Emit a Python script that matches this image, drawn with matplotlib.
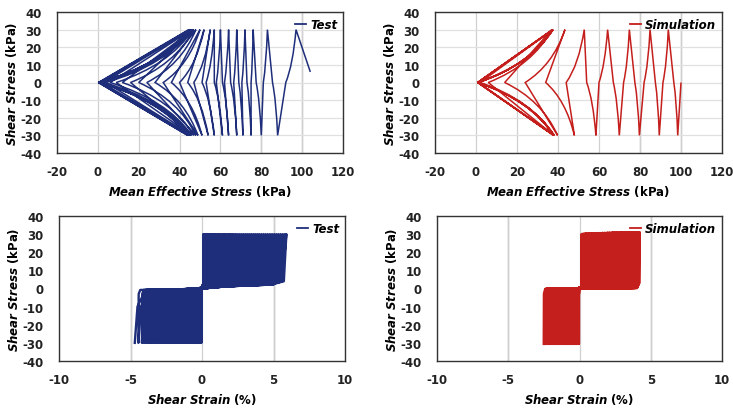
import numpy as np
import matplotlib
matplotlib.use("Agg")
import matplotlib.pyplot as plt
from matplotlib.path import Path
from matplotlib.patches import PathPatch

plt.rcParams["axes.unicode_minus"] = False

# stress path, test: turning points (p at q=+/-30) and p where each half cycle crosses q=0
test_start = (104, 6)
test_turn_p = [97, 88, 83, 80, 76, 75, 72, 71, 68, 68, 64, 64, 60, 61, 57, 57, 55, 54, 52, 51,
               50, 49, 48, 48, 47, 47, 46.5, 46, 46, 45.5, 45.5, 45, 45, 44.5, 45, 44.5, 45, 44, 44.5, 44]
test_zero_p = [92, 85.5, 81, 77.5, 75, 73, 70.5, 69, 66.5, 65, 62, 61, 58, 57, 53, 51, 47, 44, 40, 36,
               32, 28, 24, 20, 16, 12, 9, 6, 4, 3, 2, 1.5, 1, 0.8, 0.5, 0.5, 0.3, 0.3, 0.2]

# stress path, simulation (first turn is a trough)
sim_start = (100, 0)
sim_turn_p = [98.4, 93.8, 89.4, 84.9, 79.7, 74.8, 69.9, 64.2, 58.5, 52.8, 48.0, 43.4, 39.8,
              37.0, 38.0, 37.5, 38.2, 37.6, 38.0, 37.4, 37.8, 37.3, 37.9, 37.5, 38.1, 37.6]
sim_zero_p = [96.5, 91.2, 87.5, 82.0, 77.5, 72.0, 67.0, 60.0, 54.0, 44.0, 34.0, 24.0, 14.0,
              6.0, 2.0, 1.2, 1.0, 1.0, 0.9, 0.9, 0.8, 0.8, 0.8, 0.8, 0.8]

# stress-strain, max / min strain of each cycle (%)
test_gp = [0.1, 0.12, 0.14, 0.16, 0.18, 0.2, 0.23, 0.26, 0.3, 0.35,
           0.42, 0.5, 0.6, 0.7, 0.8, 0.9, 1.0, 1.12, 1.24, 1.36,
           1.48, 1.6, 1.72, 1.84, 1.96, 2.08, 2.2, 2.33, 2.46, 2.6,
           2.74, 2.88, 3.02, 3.16, 3.3, 3.44, 3.58, 3.72, 3.86, 4.0,
           4.15, 4.3, 4.45, 4.6, 4.75, 4.9, 5.05, 5.2, 5.35, 5.5,
           5.65, 5.8, 5.9]
test_gn = [-0.05, -0.06, -0.08, -0.1, -0.12, -0.14, -0.16, -0.19, -0.22, -0.26,
           -0.31, -0.37, -0.44, -0.52, -0.6, -0.68, -0.76, -0.85, -0.94, -1.03,
           -1.12, -1.21, -1.3, -1.39, -1.48, -1.57, -1.66, -1.76, -1.86, -1.96,
           -2.06, -2.16, -2.26, -2.36, -2.46, -2.56, -2.66, -2.76, -2.86, -2.96,
           -3.07, -3.18, -3.29, -3.4, -3.51, -3.62, -3.73, -3.84, -3.96, -4.08,
           -4.2, -4.45, -4.7]
sim_gp = [0.15, 0.2, 0.3, 0.4, 0.5, 0.62, 0.75, 0.88, 1.0, 1.12, 1.25, 1.38, 1.5, 1.62, 1.74,
          1.86, 1.98, 2.1, 2.22, 2.34, 2.46, 2.58, 2.7, 2.84, 2.98, 3.12, 3.26, 3.4, 3.55,
          3.7, 3.85, 4.0, 4.1, 4.2]
sim_gn = [-0.05, -0.08, -0.12, -0.18, -0.25, -0.33, -0.42, -0.5, -0.58, -0.66, -0.74, -0.82,
          -0.9, -0.98, -1.06, -1.14, -1.22, -1.3, -1.38, -1.46, -1.54, -1.62, -1.7, -1.78,
          -1.86, -1.94, -2.02, -2.1, -2.18, -2.26, -2.34, -2.4, -2.45, -2.5]
sim_qmax = [30.0, 30.1, 30.1, 30.2, 30.2, 30.3, 30.3, 30.4, 30.4, 30.4, 30.5, 30.5, 30.5,
            30.6, 30.6, 30.6, 30.7, 30.7, 30.7, 30.8, 30.8, 30.8, 30.8, 30.9, 30.9, 30.9,
            30.9, 31.0, 31.0, 31.0, 31.0, 31.0, 31.0, 31.0]

# loop shape: fraction of peak strain / stress at the vertices
test_up_frac = [0.995, 0.97, 0.3, 0.0, 0.3, 0.85, 0.96, 1.0]
test_up_q = [-3, -0.8, -0.5, 0.0, 1.2, 2.2, 10, 30]
test_dn_frac = [0.97, 0.85, 0.3, 0.0, 0.3, 0.85, 0.96, 1.0]
test_dn_q = [4, 2.5, 1.6, 0.3, -0.4, -1.5, -10, -30]
sim_up_frac = [0.995, 0.96, 0.02, 0.04, 0.96, 0.995, 1.0]
sim_up_q = [-3, -0.3, -0.2, 0.5, 0.5, 3, 30.5]
sim_dn_frac = [0.995, 0.96, 0.05, 0.02, 0.96, 0.995, 1.0]
sim_dn_q = [3, 0.3, 0.4, -0.1, -0.3, -3, -30.5]

blue = "#1f2e7a"
red = "#c41f1c"


def stress_path(start, turns, zeros, first_sign):
    verts = [start]
    codes = [Path.MOVETO]
    sign = first_sign
    verts.append((turns[0], 30 * sign))
    codes.append(Path.LINETO)
    for i in range(1, len(turns)):
        p0 = turns[i - 1]
        o = zeros[i - 1]
        # unloading towards q=0 is curved, reloading is near straight
        verts += [(o + 0.7 * (p0 - o), 10 * sign), (o, 0)]
        codes += [Path.CURVE3, Path.CURVE3]
        sign = -sign
        verts.append((turns[i], 30 * sign))
        codes.append(Path.LINETO)
    return Path(verts, codes)


def loops(gp, gn, up_f, up_q, dn_f, dn_q, qmax=None):
    x = [0.0]
    y = [0.0]
    prev_n = gn[0]
    for i, (a, b) in enumerate(zip(gp, gn)):
        top = 30 if qmax is None else qmax[i]
        for f, q in zip(up_f, up_q):
            g = prev_n if q < 0 else a
            x.append(f * g)
            y.append(top if q >= 30 else q)
        for f, q in zip(dn_f, dn_q):
            g = a if q > 0 else b
            x.append(f * g)
            y.append(q)
        prev_n = b
    return x, y


lab_font = dict(fontsize=8.5, fontweight="bold", family="DejaVu Sans")


def style(ax, xlim, xticks, grid_y):
    ax.set_xlim(*xlim)
    ax.set_ylim(-40, 40)
    ax.set_xticks(xticks)
    ax.set_yticks(range(-40, 41, 10))
    ax.tick_params(axis="x", length=0, pad=9, labelsize=8.5)
    ax.tick_params(axis="y", length=0, pad=11, labelsize=8.5)
    for lab in ax.get_xticklabels() + ax.get_yticklabels():
        lab.set_fontweight("bold")
        lab.set_color("#222222")
    for s in ax.spines.values():
        s.set_color("#333333")
        s.set_linewidth(1.0)
    ax.grid(axis="x", color="#d0d0d0", lw=0.9)
    if grid_y:
        ax.grid(axis="y", color="#e0e0e0", lw=0.9)
    ax.set_axisbelow(True)
    ax.set_ylabel(r"$\mathbfit{Shear\ Stress}$ (kPa)", labelpad=1, **lab_font)


def legend(ax, color, text):
    leg = ax.legend([plt.Line2D([], [], color=color, lw=1.3)], [text], loc="upper right",
                    frameon=False, handlelength=1.0, handletextpad=0.3, borderpad=0.3,
                    borderaxespad=0.2, prop=dict(weight="bold", style="italic", size=8.5))
    return leg


fig = plt.figure(figsize=(7.33, 4.10), dpi=100)
W, H = 733.0, 410.0
ax1 = fig.add_axes([57 / W, 1 - 154 / H, 286 / W, 141 / H])
ax2 = fig.add_axes([435 / W, 1 - 154 / H, 287 / W, 141 / H])
ax3 = fig.add_axes([59 / W, 1 - 362 / H, 286 / W, 145 / H])
ax4 = fig.add_axes([437 / W, 1 - 362 / H, 285 / W, 145 / H])

# top: stress paths
for ax, start, turns, zeros, sgn, col, name in [
        (ax1, test_start, test_turn_p, test_zero_p, 1, blue, "Test"),
        (ax2, sim_start, sim_turn_p, sim_zero_p, -1, red, "Simulation")]:
    style(ax, (-20, 120), range(-20, 121, 20), True)
    for xv in (80, 100):
        ax.axvline(xv, color="#9a9a9a", lw=0.9, zorder=0.5)
    ax.add_patch(PathPatch(stress_path(start, turns, zeros, sgn), fill=False,
                           edgecolor=col, lw=1.1))
    ax.set_xlabel(r"$\mathbfit{Mean\ Effective\ Stress}$ (kPa)", labelpad=3, **lab_font)
    legend(ax, col, name)

# bottom: stress-strain loops
for ax, gp, gn, tmpl, qm, col, lw, name in [
        (ax3, test_gp, test_gn, (test_up_frac, test_up_q, test_dn_frac, test_dn_q), None,
         blue, 1.7, "Test"),
        (ax4, sim_gp, sim_gn, (sim_up_frac, sim_up_q, sim_dn_frac, sim_dn_q), sim_qmax,
         red, 1.9, "Simulation")]:
    style(ax, (-10, 10), range(-10, 11, 5), False)
    for xv in (-5, 5):
        ax.axvline(xv, color="#b0b0b0", lw=1.0, zorder=0.5)
    x, y = loops(gp, gn, *tmpl, qmax=qm)
    ax.plot(x, y, color=col, lw=lw)
    ax.set_xlabel(r"$\mathbfit{Shear\ Strain}$ (%)", labelpad=3, **lab_font)
    legend(ax, col, name)

fig.savefig("out.png", dpi=100)
